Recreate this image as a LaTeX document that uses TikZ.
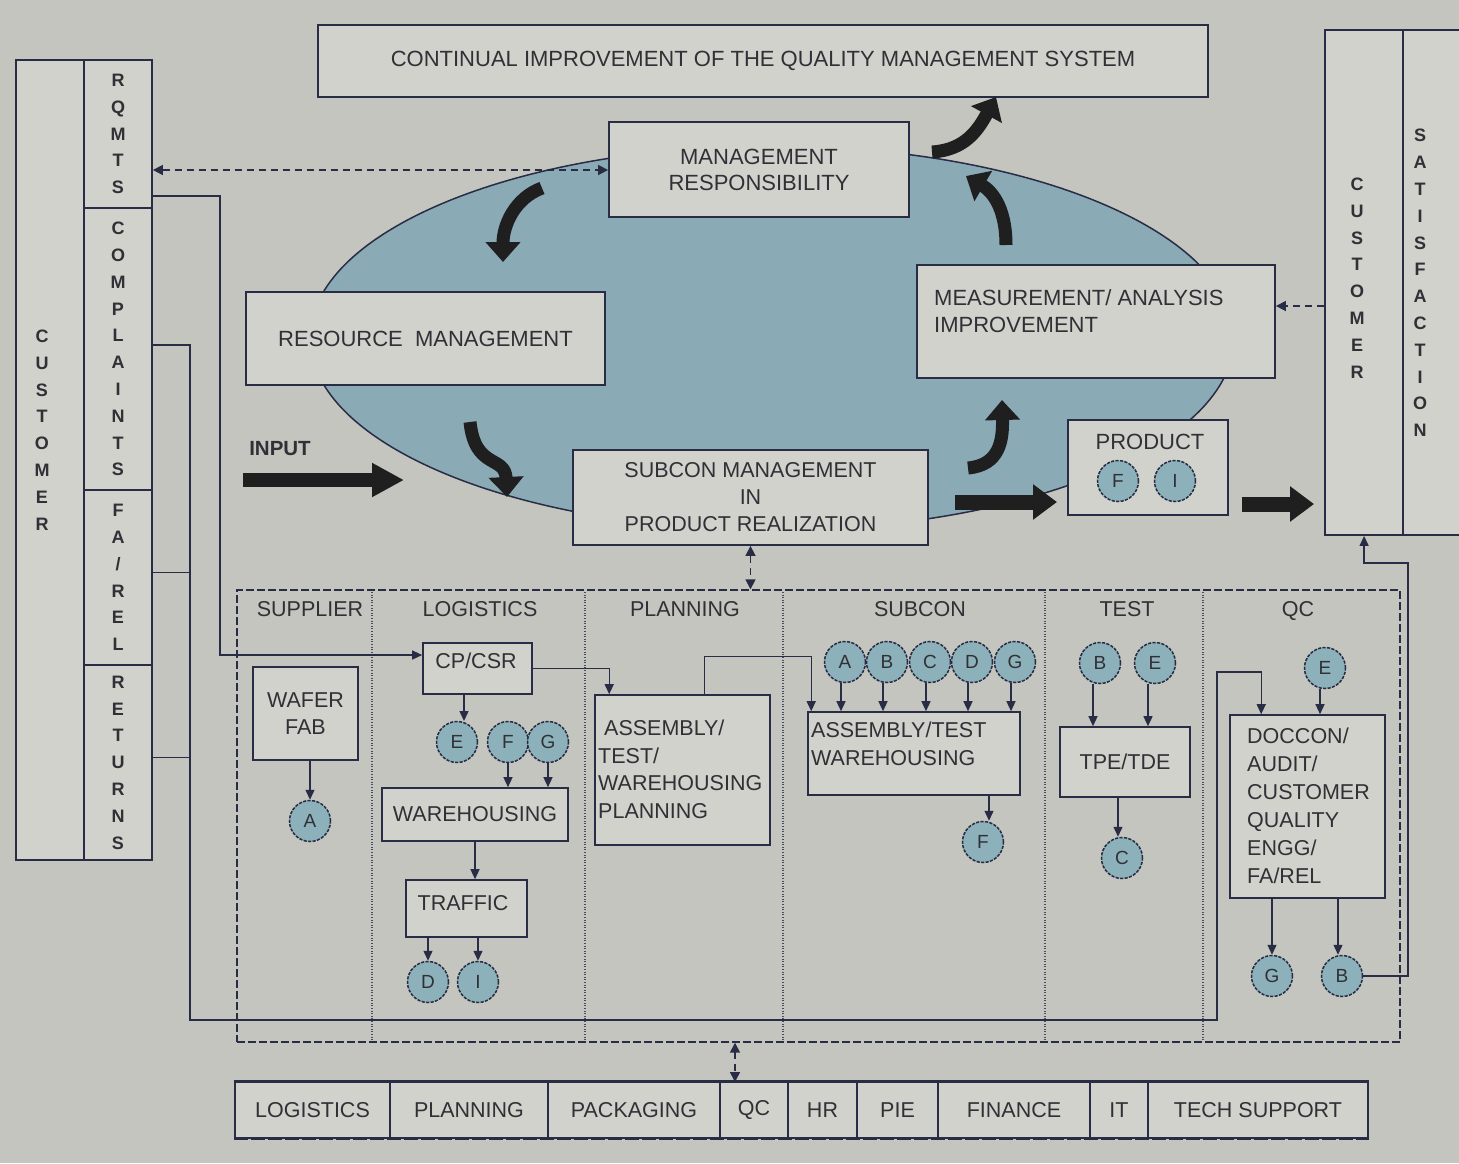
\documentclass[tikz,border=0pt]{standalone}
\usepackage{fontspec}
\setmainfont{Liberation Sans}
\usetikzlibrary{arrows.meta}

\definecolor{bgc}{RGB}{196,197,191}
\definecolor{boxfill}{RGB}{209,210,204}
\definecolor{ellfill}{RGB}{138,170,182}
\definecolor{circfill}{RGB}{140,177,186}
\definecolor{linec}{RGB}{40,44,68}
\definecolor{txt}{RGB}{48,48,54}

\tikzset{
  box/.style={draw=linec, line width=1.8pt, fill=boxfill, inner sep=0pt, text=txt,
    font=\fontsize{22}{26}\selectfont, align=center},
  dbox/.style={box, line width=1.6pt, font=\fontsize{21.5}{27.5}\selectfont},
  lbl/.style={inner sep=0pt, text=txt, font=\fontsize{21.5}{27.5}\selectfont, align=left},
  ltr/.style={circle, draw=linec, line width=1.5pt, dash pattern=on 3.2pt off 1.3pt,
    fill=circfill, minimum size=41pt, inner sep=0pt, text=txt, font=\fontsize{19}{19}\selectfont},
  conn/.style={draw=linec, line width=1.3pt, -{Triangle[width=9pt,length=10pt]}},
  plainln/.style={draw=linec, line width=1.3pt},
  dconn/.style={draw=linec, line width=1.6pt, dash pattern=on 7pt off 5pt,
    {Triangle[width=10pt,length=10pt]}-{Triangle[width=10pt,length=10pt]}},
  dconnone/.style={draw=linec, line width=1.6pt, dash pattern=on 7pt off 5pt,
    -{Triangle[width=10pt,length=10pt]}},
  bigarr/.style={draw=black!88, line width=13pt, -{Triangle[width=34pt,length=20pt]}},
  letters/.style={inner sep=0pt, text=txt, align=center, font=\bfseries\fontsize{18}{26.8}\selectfont},
  cell/.style={draw=linec, line width=1.6pt, fill=boxfill, inner sep=0pt, minimum height=56pt,
    text=txt, font=\fontsize{21.5}{22}\selectfont},
  dotline/.style={draw=linec!85, line width=2.2pt, dash pattern=on 1pt off 1.6pt},
}

\begin{document}
\begin{tikzpicture}[x=1pt, y=-1pt]
\useasboundingbox (0,0) rectangle (1459,1163);
\clip (0,0) rectangle (1459,1163);
\fill[bgc] (0,0) rectangle (1459,1163);

% ---------- central process loop ----------
\fill[ellfill] (772,338) ellipse [x radius=462pt, y radius=192pt];
\draw[linec, line width=1.5pt] (772,338) ellipse [x radius=462pt, y radius=192pt];

\node[box, minimum width=890pt, minimum height=72pt] (ci) at (763,61)
  {CONTINUAL IMPROVEMENT OF THE QUALITY MANAGEMENT SYSTEM};
\node[box, minimum width=300pt, minimum height=95pt] (mr) at (759,169.5)
  {MANAGEMENT\\RESPONSIBILITY};
\node[box, minimum width=359pt, minimum height=93pt] (rm) at (425.5,338.5)
  {RESOURCE\ \ MANAGEMENT};
\node[box, minimum width=358pt, minimum height=113pt] (ma) at (1096,321.5) {};
\node[lbl, font=\fontsize{22}{27}\selectfont, anchor=north west] (matxt) at (934,289)
  {MEASUREMENT/ ANALYSIS\\IMPROVEMENT};
\node[box, minimum width=355pt, minimum height=95pt, font=\fontsize{21.5}{27}\selectfont] (sc) at (750.5,497.5)
  {SUBCON MANAGEMENT\\IN\\PRODUCT REALIZATION};
\node[box, minimum width=160pt, minimum height=95pt] (pr) at (1148,467.5) {};
\node[lbl, font=\fontsize{22}{22}\selectfont] (prtxt) at (1150,442) {PRODUCT};
\node[ltr] (pF) at (1118,481) {F};
\node[ltr] (pI) at (1175,481) {I};

\node[lbl, font=\bfseries\fontsize{20.5}{22}\selectfont] (input) at (280,449) {INPUT};
\coordinate (in1) at (243,480);
\coordinate (in2) at (404,480);
\draw[bigarr, line width=14pt, -{Triangle[width=32pt,length=32pt]}] (in1) -- (in2);
\coordinate (sp1) at (955,502);
\coordinate (sp2) at (1057,502);
\draw[bigarr, line width=15pt, -{Triangle[width=34pt,length=24pt]}] (sp1) -- (sp2);
\coordinate (pc1) at (1242,504);
\coordinate (pc2) at (1314,504);
\draw[bigarr, line width=15pt, -{Triangle[width=34pt,length=24pt]}] (pc1) -- (pc2);

% curved loop arrows
\draw[bigarr] (542,188) .. controls (515,198) and (503,225) .. (503,262);
\draw[bigarr] (470,422) .. controls (475,470) and (505,455) .. (507,497);
\draw[bigarr] (968,468) .. controls (1000,465) and (1003,440) .. (1002,400);
\draw[bigarr] (1006,245) .. controls (1006,205) and (990,190) .. (966,176);
\draw[bigarr] (932,152) .. controls (965,150) and (978,130) .. (996,97);

% ---------- customer (input side) ----------
\node[box, minimum width=68pt, minimum height=800pt] (custL) at (50,460) {};
\node[letters] (custLtxt) at (42,430) {C\\U\\S\\T\\O\\M\\E\\R};
\node[box, minimum width=68pt, minimum height=148pt] (rq) at (118,134) {};
\node[letters] at (rq) {R\\Q\\M\\T\\S};
\node[box, minimum width=68pt, minimum height=282pt] (cp) at (118,349) {};
\node[letters] at (cp) {C\\O\\M\\P\\L\\A\\I\\N\\T\\S};
\node[box, minimum width=68pt, minimum height=175pt] (fa) at (118,577.5) {};
\node[letters] at (fa) {F\\A\\/\\R\\E\\L};
\node[box, minimum width=68pt, minimum height=195pt] (rt) at (118,762.5) {};
\node[letters] at (rt) {R\\E\\T\\U\\R\\N\\S};

% ---------- customer (output side) ----------
\node[box, minimum width=78pt, minimum height=505pt] (cust2) at (1364,282.5) {};
\node[letters] (cust2txt) at (1357,278) {C\\U\\S\\T\\O\\M\\E\\R};
\node[box, minimum width=80pt, minimum height=505pt] (sat) at (1443,282.5) {};
\node[letters] (sattxt) at (1420,283) {S\\A\\T\\I\\S\\F\\A\\C\\T\\I\\O\\N};

% dashed links to the customer
\coordinate (dq) at (0,170);
\draw[dconn] (rq.east |- dq) -- (mr.west |- dq);
\coordinate (dm) at (0,306);
\draw[dconnone] (cust2.west |- dm) -- (ma.east |- dm);

% ---------- departments ----------
\node[draw=linec, line width=1.4pt, dash pattern=on 8pt off 3pt, minimum width=1163pt,
      minimum height=452pt, inner sep=0pt] (dept) at (818.5,816) {};
\foreach \x in {372,585,783,1045,1203} \draw[dotline] (\x,592) -- (\x,1040);

\draw[dconn] (sc.south) -- (sc.south |- dept.north);

\node[lbl] (hSup) at (310,609) {SUPPLIER};
\node[lbl] (hLog) at (480,609) {LOGISTICS};
\node[lbl] (hPlan) at (685,609) {PLANNING};
\node[lbl] (hSub) at (920,609) {SUBCON};
\node[lbl] (hTest) at (1127,609) {TEST};
\node[lbl] (hQC) at (1298,611) {QC};

% supplier
\node[dbox, minimum width=105pt, minimum height=93pt] (wafer) at (305.5,713.5) {WAFER\\FAB};
\node[ltr] (sA) at (310,821) {A};
\draw[conn] (sA.north |- wafer.south) -- (sA.north);

% logistics
\node[dbox, minimum width=109pt, minimum height=51pt] (cpcsr) at (477.5,668.5) {};
\node[lbl] (cpcsrtxt) at (476,661) {CP/CSR};
\node[ltr] (lE) at (457,742) {E};
\node[ltr] (lF) at (508,742) {F};
\node[ltr] (lG) at (548,742) {G};
\node[dbox, minimum width=186pt, minimum height=53pt] (wh) at (475,814.5) {WAREHOUSING};
\node[dbox, minimum width=121pt, minimum height=57pt] (traffic) at (466.5,908.5) {};
\node[lbl] (traffictxt) at (463,903) {TRAFFIC};
\node[ltr] (lD) at (428,982) {D};
\node[ltr] (lI) at (478,982) {I};
\draw[conn] (cpcsr.south -| 464,0) -- (464,721);
\draw[conn] (lF.south) -- (lF.south |- wh.north);
\draw[conn] (lG.south) -- (lG.south |- wh.north);
\draw[conn] (wh.south) -- (wh.south |- traffic.north);
\draw[conn] (lD.north |- traffic.south) -- (lD.north);
\draw[conn] (lI.north |- traffic.south) -- (lI.north);

% planning
\node[dbox, minimum width=175pt, minimum height=150pt] (plan) at (682.5,770) {};
\node[lbl, anchor=north west] (plantxt) at (598,720)
  {\ ASSEMBLY/\\TEST/\\WAREHOUSING\\PLANNING};

% subcon
\node[dbox, minimum width=212pt, minimum height=83pt] (atw) at (914,753.5) {};
\node[lbl, anchor=north west] (atwtxt) at (811,722) {ASSEMBLY/TEST\\WAREHOUSING};
\node[ltr] (sbA) at (845,662) {A};
\node[ltr] (sbB) at (887,662) {B};
\node[ltr] (sbC) at (930,662) {C};
\node[ltr] (sbD) at (972,662) {D};
\node[ltr] (sbG) at (1015,662) {G};
\foreach \n in {sbA,sbB,sbC,sbD,sbG}
  \draw[conn] ([xshift=-4pt]\n.south) -- ([xshift=-4pt]\n.south |- atw.north);
\node[ltr] (sF) at (983,842) {F};
\draw[conn] ([xshift=6pt]sF.north |- atw.south) -- ([xshift=6pt]sF.north);

% test
\node[ltr] (tB) at (1100,663) {B};
\node[ltr] (tE) at (1155,663) {E};
\node[dbox, minimum width=130pt, minimum height=70pt] (tpe) at (1125,762) {TPE/TDE};
\node[ltr] (tC) at (1122,858) {C};
\draw[conn] ([xshift=-7pt]tB.south) -- ([xshift=-7pt]tB.south |- tpe.north);
\draw[conn] ([xshift=-7pt]tE.south) -- ([xshift=-7pt]tE.south |- tpe.north);
\draw[conn] ([xshift=-4pt]tC.north |- tpe.south) -- ([xshift=-4pt]tC.north);

% qc
\node[ltr] (qE) at (1325,668) {E};
\node[dbox, minimum width=155pt, minimum height=183pt] (doc) at (1307.5,806.5) {};
\node[lbl, anchor=north west, font=\fontsize{21.5}{28}\selectfont] (doctxt) at (1247,728)
  {DOCCON/\\AUDIT/\\CUSTOMER\\QUALITY\\ENGG/\\FA/REL};
\node[ltr] (qG) at (1272,976) {G};
\node[ltr] (qB) at (1342,976) {B};
\draw[conn] ([xshift=-5pt]qE.south) -- ([xshift=-5pt]qE.south |- doc.north);
\draw[conn] (qG.north |- doc.south) -- (qG.north);
\draw[conn] ([xshift=-4pt]qB.north |- doc.south) -- ([xshift=-4pt]qB.north);
\coordinate (qret) at (1408,563);
\draw[conn] (qB.east) -| (qret) -| ([xshift=40pt]cust2.south west);

% ---------- flow lines from the customer ----------
\coordinate (rqk) at (220,655);
\draw[conn] ([yshift=13pt]rq.south east) -| (rqk) -- (cpcsr.west |- rqk);
\coordinate (cb1) at (190,1020);
\coordinate (cb2) at (1217,1020);
\coordinate (cb3) at (1217,672);
\draw[conn] ([yshift=4pt]cp.east) -| (cb1) -- (cb2) -- (cb3) -| ([xshift=32pt]doc.north west);
\draw[plainln] ([yshift=5pt]fa.east) -- ([yshift=5pt]fa.east -| cb1);
\draw[plainln] ([yshift=5pt]rt.east) -- ([yshift=5pt]rt.east -| cb1);
\draw[conn] (cpcsr.east) -| ([xshift=15pt]plan.north west);
\draw[conn] ([xshift=110pt]plan.north west) -- ++(0,-38) -| ([xshift=4pt]atw.north west);

% ---------- support functions ----------
\node[cell, minimum width=155pt] (bLog) at (312.5,1110) {LOGISTICS};
\node[cell, minimum width=158pt] (bPlan) at (469,1110) {PLANNING};
\node[cell, minimum width=172pt] (bPack) at (634,1110) {PACKAGING};
\node[cell, minimum width=68pt] (bQC) at (754,1110) {QC};
\node[cell, minimum width=69pt] (bHR) at (822.5,1110) {HR};
\node[cell, minimum width=81pt] (bPIE) at (897.5,1110) {PIE};
\node[cell, minimum width=152pt] (bFin) at (1014,1110) {FINANCE};
\node[cell, minimum width=58pt] (bIT) at (1119,1110) {IT};
\node[cell, minimum width=220pt] (bTech) at (1258,1110) {TECH SUPPORT};
\draw[linec, line width=2.6pt] (bLog.north west) -- (bTech.north east);
\draw[linec, line width=2.6pt, dash pattern=on 14pt off 3pt] (bLog.south west) -- (bTech.south east);

\coordinate (bt) at (735,1082);
\draw[dconn] (dept.south -| bt) -- (bt);
\end{tikzpicture}
\end{document}
